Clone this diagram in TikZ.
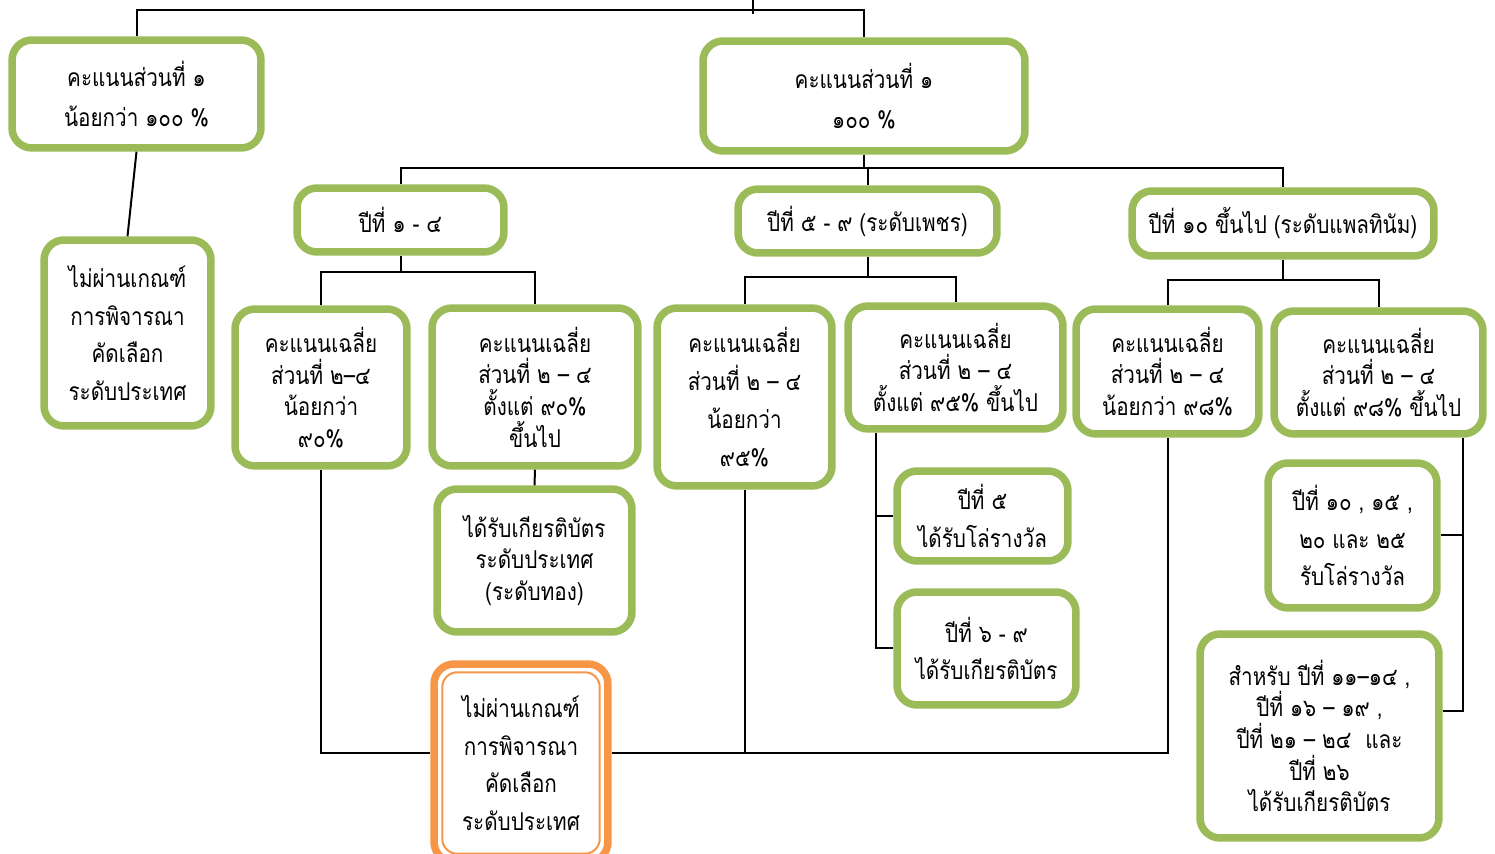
\documentclass[tikz,border=0pt]{standalone}
\usepackage{fontspec}
\usepackage{xcolor}
\usepackage{tikz}
\newfontfamily\thaifont[Script=Thai,FakeStretch=0.84]{Loma}
\definecolor{boxgreen}{HTML}{9BBB59}
\definecolor{boxorange}{HTML}{F79646}

\begin{document}
\begin{tikzpicture}[x=0.02cm, y=-0.02cm, line width=0.04cm,
	box/.style={draw=boxgreen, line width=0.15cm, rounded corners=0.4cm, fill=white, align=center, inner sep=0pt, font=\thaifont\fontsize{14}{18}\selectfont},
	wide/.style={box, font=\thaifont\fontsize{14}{21.5}\selectfont},
	failbox/.style={wide, draw=boxorange}]
	\useasboundingbox (0,0) rectangle (1495,854);
	\clip (0,0) rectangle (1495,854);
	\node[wide, minimum width=4.98cm, minimum height=2.16cm] (A) at (136.5,94) {คะแนนส่วนที่ ๑\\[1.5pt]น้อยกว่า ๑๐๐ \%};
	\node[wide, minimum width=6.44cm, minimum height=2.20cm] (B) at (864,96) {คะแนนส่วนที่ ๑\\[1.5pt]๑๐๐ \%};
	\node[wide, minimum width=3.34cm, minimum height=3.72cm] (C) at (127.5,333) {ไม่ผ่านเกณฑ์\\การพิจารณา\\คัดเลือก\\ระดับประเทศ};
	\node[box, minimum width=4.14cm, minimum height=1.28cm] (D) at (400.5,220) {ปีที่ ๑ - ๔};
	\node[box, minimum width=5.18cm, minimum height=1.28cm] (E) at (867.5,221) {ปีที่ ๕ - ๙ (ระดับเพชร)};
	\node[box, minimum width=6.04cm, minimum height=1.30cm] (F) at (1283,223.5) {ปีที่ ๑๐ ขึ้นไป (ระดับแพลทินัม)};
	\node[box, minimum width=3.44cm, minimum height=3.14cm] (G) at (321,387.5) {คะแนนเฉลี่ย\\ส่วนที่ ๒–๔\\น้อยกว่า\\๙๐\%};
	\node[box, minimum width=4.12cm, minimum height=3.16cm] (H) at (535,387) {คะแนนเฉลี่ย\\ส่วนที่ ๒ – ๔\\ตั้งแต่ ๙๐\%\\ขึ้นไป};
	\node[box, minimum width=3.90cm, minimum height=2.86cm] (I) at (534.5,560.5) {ได้รับเกียรติบัตร\\ระดับประเทศ\\(ระดับทอง)};
	\node[wide, minimum width=3.50cm, minimum height=3.56cm] (J) at (744.5,397) {คะแนนเฉลี่ย\\ส่วนที่ ๒ – ๔\\น้อยกว่า\\๙๕\%};
	\node[box, minimum width=4.30cm, minimum height=2.46cm] (K) at (955.5,367.5) {คะแนนเฉลี่ย\\ส่วนที่ ๒ – ๔\\ตั้งแต่ ๙๕\% ขึ้นไป};
	\node[wide, minimum width=3.42cm, minimum height=1.80cm] (L) at (982.5,516) {ปีที่ ๕\\ได้รับโล่รางวัล};
	\node[wide, minimum width=3.58cm, minimum height=2.26cm] (M) at (986.5,648.5) {ปีที่ ๖ - ๙\\ได้รับเกียรติบัตร};
	\node[box, minimum width=3.66cm, minimum height=2.50cm] (N) at (1167.5,371.5) {คะแนนเฉลี่ย\\ส่วนที่ ๒ – ๔\\น้อยกว่า ๙๘\%};
	\node[box, minimum width=4.18cm, minimum height=2.46cm] (O) at (1378.5,372.5) {คะแนนเฉลี่ย\\ส่วนที่ ๒ – ๔\\ตั้งแต่ ๙๘\% ขึ้นไป};
	\node[wide, minimum width=3.38cm, minimum height=2.90cm] (P) at (1352.5,535.5) {ปีที่ ๑๐ , ๑๕ ,\\๒๐ และ ๒๕\\รับโล่รางวัล};
	\node[box, minimum width=4.78cm, minimum height=4.08cm] (Q) at (1319.5,736) {สำหรับ ปีที่ ๑๑–๑๔ ,\\ปีที่ ๑๖ – ๑๙ ,\\ปีที่ ๒๑ – ๒๔~~และ\\ปีที่ ๒๖\\ได้รับเกียรติบัตร};
	\node[failbox, minimum width=3.48cm, minimum height=3.96cm] (R) at (521,763) {ไม่ผ่านเกณฑ์\\การพิจารณา\\คัดเลือก\\ระดับประเทศ};
	\draw[boxorange, line width=0.04cm, rounded corners=0.3cm] ([shift={(12,12)}]R.north west) rectangle ([shift={(-12,-12)}]R.south east);
	% top level
	\coordinate (root) at (753,0);
	\draw (root) -- ++(0,14);
	\draw (A.north) -- ++(0,-26) -| (B.north);
	\draw (A.south) -- (C.north);
	\draw (B.south) -- ++(0,13);
	\draw (D.north) -- ++(0,-16) -| (F.north);
	\draw (E.north) -- ++(0,-16);
	% years 1-4
	\draw (D.south) -- ++(0,16);
	\draw (G.north) -- ++(0,-33) -| (H.north);
	\draw (H.south) -- (I.north);
	% years 5-9
	\draw (E.south) -- ++(0,20);
	\draw (J.north) -- ++(0,-27) -| (K.north);
	\draw (L.west) -| ([xshift=0.64cm]K.south west);
	\draw (M.west) -| ([xshift=0.64cm]K.south west);
	% years 10+
	\draw (F.south) -- ++(0,20);
	\draw (N.north) -- ++(0,-25) -| (O.north);
	\draw (P.east) -| ([xshift=-0.48cm]O.south east);
	\draw ([yshift=0.5cm]Q.east) -| ([xshift=-0.48cm]O.south east);
	% not passed
	\coordinate (bus) at ([yshift=0.2cm]R.east);
	\draw (G.south) |- ([yshift=0.2cm]R.west);
	\draw (bus) -| (N.south);
	\draw (J.south) -- (J.south |- bus);
\end{tikzpicture}
\end{document}
